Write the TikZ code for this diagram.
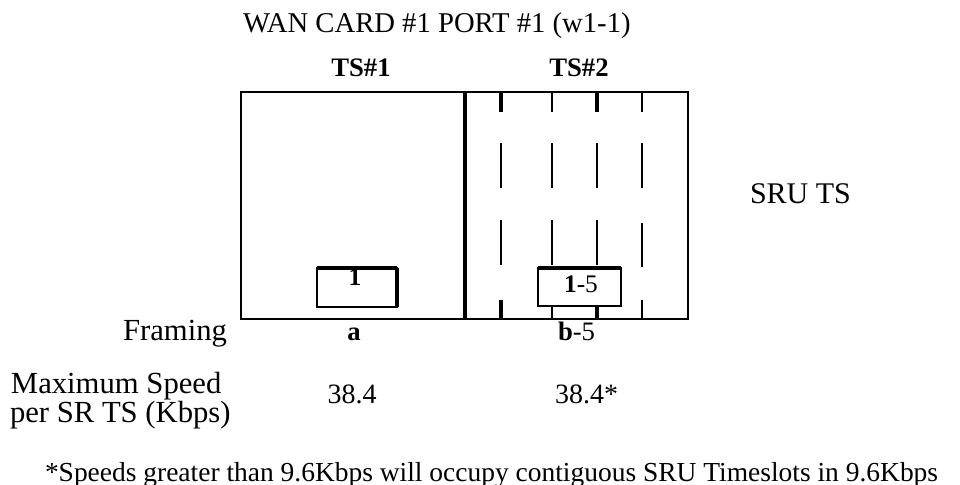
\documentclass[tikz,border=0pt]{standalone}
\usepackage{fontspec}
\setmainfont{Liberation Serif}
\newcommand\setfs[1]{\fontsize{#1}{#1}\selectfont}
\begin{document}
\begin{tikzpicture}[x=0.75pt,y=-0.75pt,
  txt/.style={inner sep=0pt,outer sep=0pt},
  frame/.style={line width=1.5pt},
  divider/.style={line width=3pt},
  thindash/.style={line width=1.2pt},
  thickdash/.style={line width=2.8pt},
  slotbox/.style={line width=1.5pt,fill=white},
  slottop/.style={line width=3pt}]
\useasboundingbox (0,0) rectangle (960,485);

% title and headers
\node[txt,anchor=base west] (title) at (243,33) {\setfs{21.5pt}WAN CARD \#1 PORT \#1 (w1-1)};
\node[txt,anchor=base] (ts1) at (361,77) {\setfs{20pt}\bfseries TS\#1};
\node[txt,anchor=base] (ts2) at (579,77) {\setfs{20pt}\bfseries TS\#2};
\node[txt,anchor=base west] (sruts) at (750,203) {\setfs{22.5pt}SRU TS};

% outer frame
\draw[frame] (241,92) rectangle (688,319);
\draw[divider] (465,92) -- (465,319);

% dashed SRU timeslot separators
\foreach \x in {501,552,597,642}{
  \draw[thindash] (\x,143) -- (\x,188);
}
\foreach \x in {501,552,597}{
  \draw[thindash] (\x,220) -- (\x,265);
}
\draw[thindash] (642,223) -- (642,267);
\draw[thickdash] (501,92) -- (501,112);
\draw[thindash] (552,92) -- (552,112);
\draw[thickdash] (597,92) -- (597,112);
\draw[thindash] (642,92) -- (642,112);
\draw[thickdash] (501,300) -- (501,319);
\draw[thindash] (552,306) -- (552,319);
\draw[thickdash] (597,306) -- (597,319);
\draw[thindash] (642,300) -- (642,319);

% slot box TS#1
\draw[slotbox] (317,268) rectangle (397,307);
\node[txt,anchor=base] (one) at (355,285) {\setfs{19pt}\bfseries 1};
\draw[slottop] (317,268) -- (397,268);
\draw[line width=2.5pt] (397,268) -- (397,307);

% slot box TS#2
\draw[slotbox] (538,268) rectangle (621,306);
\draw[slottop] (538,268) -- (621,268);
\node[txt,anchor=base] (onefive) at (581,292) {\setfs{19pt}\textbf{1}-5};

% framing row
\node[txt,anchor=base east] (framing) at (227,340) {\setfs{23pt}Framing};
\node[txt,anchor=base] (fa) at (354,340) {\setfs{20pt}\bfseries a};
\node[txt,anchor=base west] (fb) at (558,340) {\setfs{20pt}\textbf{b}-5};

% speed rows
\node[txt,anchor=base west] (maxs) at (11,393) {\setfs{23pt}Maximum Speed};
\node[txt,anchor=base west] (pers) at (10,422) {\setfs{23pt}per SR TS (Kbps)};
\node[txt,anchor=base] (sp1) at (352,403) {\setfs{21pt}38.4};
\node[txt,anchor=base west] (sp2) at (555,403) {\setfs{21pt}38.4*};

% footnote
\node[txt,anchor=base west] (note) at (45,481) {\setfs{20.6pt}*Speeds greater than 9.6Kbps will occupy contiguous SRU Timeslots in 9.6Kbps};
\end{tikzpicture}
\end{document}
